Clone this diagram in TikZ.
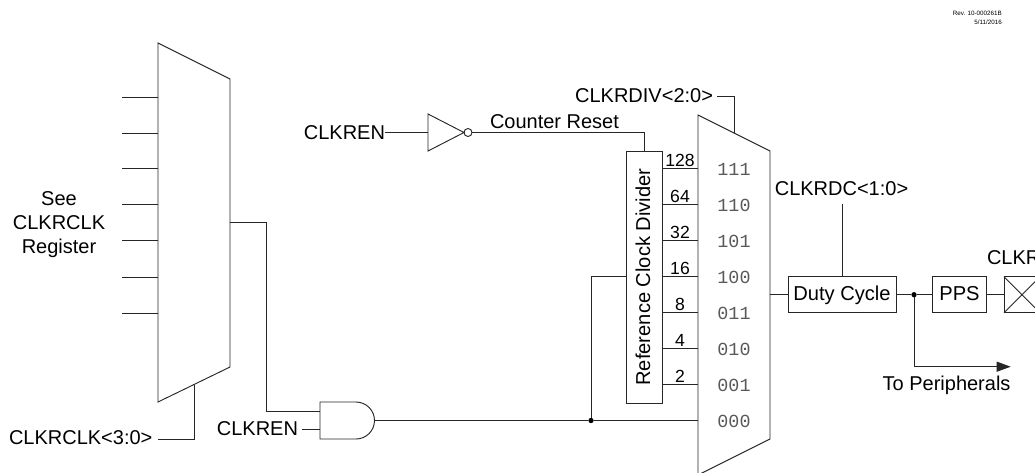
\documentclass[tikz,border=0pt]{standalone}
\usepackage{fontspec}
\setmainfont{Liberation Sans}
\setmonofont{Liberation Mono}
\usetikzlibrary{arrows.meta}
\tikzset{
  wire/.style={line width=0.7pt,draw=black!85},
  lab/.style={inner sep=0pt,outer sep=0pt,font=\fontsize{15}{18}\selectfont},
  bitlab/.style={inner sep=0pt,outer sep=0pt,text=black!65,font=\ttfamily\fontsize{13.8}{16}\selectfont},
  block/.style={wire,draw,inner sep=0pt,outer sep=0pt,text height=11pt,text depth=2pt,font=\fontsize{15.1}{18}\selectfont},
  joint/.style={circle,fill=black,inner sep=0pt,outer sep=0pt,minimum size=4pt},
  bubble/.style={circle,wire,draw,inner sep=0pt,outer sep=0pt,minimum size=6pt},
}
\begin{document}
\begin{tikzpicture}[y=-0.75pt, x=0.75pt]
      \useasboundingbox (0,0) rectangle (1035,472);

      %% revision note
      \node[inner sep=0pt,anchor=east,font=\fontsize{4.7}{6}\selectfont] (rev) at (1002,13) {Rev. 10-000261B};
      \node[inner sep=0pt,anchor=east,font=\fontsize{4.7}{6}\selectfont] (revdate) at (1002,22) {5/11/2016};

      %% source mux
      \draw[wire] (158,43) coordinate (srcTL) -- (230,79) coordinate (srcTR)
           -- (230,367) coordinate (srcBR) -- (158,402) coordinate (srcBL) -- cycle;

      \foreach \y [count=\i] in {97,133,168.5,204.5,240.5,277,313} {
        \coordinate (srcstub\i) at (122,\y);
        \coordinate (srcin\i) at (158,\y);
        \draw[wire] (srcstub\i) -- (srcin\i); }

      \node[lab,align=center,anchor=center] (srcnote) at (59,225) {See\\CLKRCLK\\Register};

      %% source select
      \node[lab,anchor=west] (clkrclk) at (9,438) {CLKRCLK<3:0>};
      \coordinate (srcsel) at (194,384.5);
      \coordinate (srcselend) at (158,439);
      \draw[wire] (srcsel) -- (194,439) -- (srcselend);

      %% and gate
      \draw[wire] (320,402) coordinate (andTL) -- (356,402)
           .. controls (366.2,402) and (374.5,410.3) .. (374.5,420.5) coordinate (andout)
           .. controls (374.5,430.7) and (366.2,439) .. (356,439)
           -- (320,439) coordinate (andBL) -- cycle;
      \coordinate (srcout) at (230,222.5);
      \coordinate (andinA) at (320,411);
      \coordinate (andinB) at (320,429.5);
      \draw[wire] (srcout) -- (266,222.5) -- (266,411) -- (andinA);
      \node[lab,anchor=east] (clkrenB) at (298,429) {CLKREN};
      \draw[wire] (302,429.5) coordinate (clkrenBend) -- (andinB);

      %% inverter
      \node[lab,anchor=east] (clkrenA) at (385,133) {CLKREN};
      \draw[wire] (428,114) coordinate (invT) -- (464,132.5) coordinate (invtip)
           -- (428,151) coordinate (invB) -- cycle;
      \coordinate (invin) at (428,132.5);
      \node[bubble] (invbub) at (468,132.5) {};
      \draw[wire] (clkrenA.east |- invin) -- (invin);

      %% divider
      \node[block,rotate=90,minimum width=189pt,minimum height=27pt] (divider) at (644,277) {Reference Clock Divider};
      \draw[wire] (invbub.east) -- (644,132.5) -- (divider.east);
      \node[lab,anchor=west] (reset) at (490,122) {Counter Reset};

      %% output mux
      \draw[wire] (698,115) coordinate (muxTL) -- (770,151) coordinate (muxTR)
           -- (770,439) coordinate (muxBR) -- (698,475) coordinate (muxBL) -- cycle;

      \foreach \y/\d in {168.7/128,204.7/64,240.6/32,276.6/16,312.7/8,348.7/4,384.7/2} {
        \coordinate (divout\d) at (662,\y);
        \coordinate (muxin\d) at (698,\y);
        \draw[wire] (divout\d) -- (muxin\d)
             node[midway,anchor=south,inner sep=1pt,font=\fontsize{13.2}{15}\selectfont] (ratio\d) {\d}; }

      \foreach \y/\b in {169/111,205/110,241/101,277/100,313/011,349/010,385/001,421/000} {
        \node[bitlab] (bit\b) at (734,\y) {\b}; }

      \node[lab,anchor=east] (clkrdiv) at (713,96) {CLKRDIV<2:0>};
      \coordinate (muxsel) at (734,133);
      \draw[wire] (717,96.5) coordinate (clkrdivend) -- (734,96.5) -- (muxsel);

      %% gate to mux and divider
      \node[joint] (gatejoint) at (591,420.5) {};
      \coordinate (muxin0) at (698,420.5);
      \draw[wire] (andout) -- (gatejoint) -- (muxin0);
      \draw[wire] (gatejoint) -- (591,276.6) -- (divider.north |- 591,276.6);

      %% output chain
      \node[block,minimum width=81pt,minimum height=27pt] (duty) at (842,294.7) {Duty Cycle};
      \node[block,minimum width=41pt,minimum height=27pt] (pps) at (959.5,294.7) {PPS};
      \node[block,minimum width=27pt,minimum height=27pt] (padbox) at (1022,294.7) {};
      \draw[wire] (padbox.north west) -- (padbox.south east);
      \draw[wire] (padbox.south west) -- (padbox.north east);
      \coordinate (muxout) at (770,294.7);
      \draw[wire] (muxout) -- (duty.west);
      \node[joint] (outjoint) at (914,294.7) {};
      \draw[wire] (duty.east) -- (outjoint) -- (pps.west);
      \draw[wire] (pps.east) -- (padbox.west);

      \node[lab] (clkrdc) at (841.5,189) {CLKRDC<1:0>};
      \coordinate (clkrdcend) at (842,204);
      \draw[wire] (clkrdcend) -- (duty.north);
      \node[lab,anchor=west] (clkr) at (987,258) {CLKR};

      %% to peripherals
      \coordinate (periend) at (1010.7,366.7);
      \draw[wire,-{Triangle[length=10.5pt,width=7.5pt]}] (outjoint) -- (914,366.7) -- (periend);
      \node[lab,anchor=east] (peri) at (1010.5,385) {To Peripherals};

\end{tikzpicture}
\end{document}
